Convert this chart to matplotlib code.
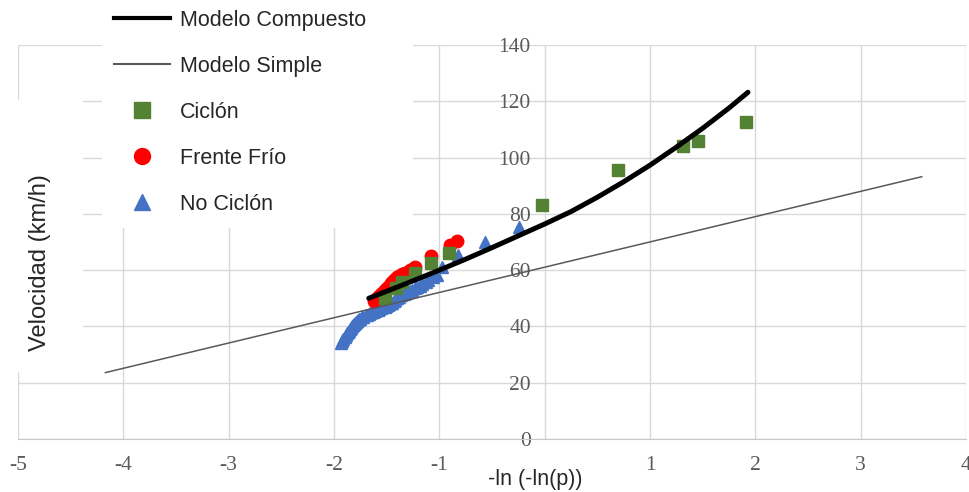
import matplotlib
matplotlib.use("Agg")
import matplotlib.pyplot as plt
from matplotlib.patches import Rectangle
from matplotlib.lines import Line2D

# ---------------- data ----------------
x_ticks = [-5, -4, -3, -2, -1, 0, 1, 2, 3, 4]
x_tick_labels = ["-5", "-4", "-3", "-2", "-1", "", "1", "2", "3", "4"]
y_ticks = [0, 20, 40, 60, 80, 100, 120, 140]

compuesto_x = [-1.67, -1.5, -1.25, -1.0, -0.75, -0.5, -0.25, 0.0, 0.25, 0.5,
               0.75, 1.0, 1.25, 1.5, 1.75, 1.93]
compuesto_y = [50.0, 52.5, 56.2, 60.0, 63.9, 68.0, 72.2, 76.4, 80.8, 85.9,
               91.4, 97.3, 103.7, 110.4, 117.6, 123.2]

simple_x = [-4.17, 3.58]
simple_y = [23.6, 93.2]

ciclon_x = [-1.52, -1.41, -1.35, -1.23, -1.08, -0.91, -0.03, 0.70, 1.31, 1.46, 1.91]
ciclon_y = [50.0, 53.6, 55.8, 59.0, 62.5, 66.0, 83.0, 95.5, 104.0, 106.0, 112.5]

frio_x = [-1.62, -1.60, -1.58, -1.56, -1.54, -1.52, -1.50, -1.48, -1.46, -1.44,
          -1.42, -1.40, -1.38, -1.35, -1.33, -1.30, -1.28, -1.25, -1.23,
          -1.08, -0.90, -0.83]
frio_y = [49.0, 49.8, 50.5, 51.2, 52.0, 52.8, 53.5, 54.5, 55.5, 56.2,
          57.0, 57.5, 58.0, 58.5, 59.0, 59.5, 60.0, 60.5, 61.0,
          65.0, 69.0, 70.4]

nociclon_x = [-1.93, -1.92, -1.91, -1.90, -1.89, -1.88, -1.87, -1.86, -1.85, -1.84,
              -1.83, -1.82, -1.81, -1.80, -1.79, -1.78, -1.77, -1.76, -1.75, -1.73,
              -1.72, -1.70, -1.69, -1.67, -1.66, -1.64, -1.63, -1.61, -1.60, -1.58,
              -1.57, -1.55, -1.54, -1.52, -1.51, -1.49, -1.48, -1.46, -1.45, -1.43,
              -1.42, -1.40, -1.38, -1.36, -1.34, -1.32, -1.30, -1.28, -1.26, -1.23,
              -1.21, -1.18, -1.16, -1.13, -1.11, -1.06, -1.02,
              -0.97, -0.82, -0.57, -0.24]
nociclon_y = [34.0, 34.8, 35.5, 36.3, 37.0, 37.5, 38.0, 38.5, 39.0, 39.5,
              40.0, 40.4, 40.8, 41.2, 41.5, 41.9, 42.2, 42.5, 42.8, 43.2,
              43.5, 43.9, 44.2, 44.5, 44.8, 45.0, 45.3, 45.6, 45.8, 46.0,
              46.3, 46.5, 46.8, 47.0, 47.3, 47.6, 48.0, 48.2, 48.5, 49.0,
              49.5, 50.0, 50.5, 51.0, 51.5, 51.9, 52.3, 52.6, 53.0, 53.5,
              54.0, 54.5, 55.0, 55.8, 56.5, 57.5, 58.3,
              61.0, 65.4, 70.0, 75.3]

# ---------------- figure ----------------
W, H = 969, 492
fig = plt.figure(figsize=(W / 100, H / 100), dpi=100)
ax = fig.add_axes([18 / W, (H - 439) / H, 948 / W, 394 / H])

grid_c = "#d9d9d9"
ax.set_xlim(-5, 4)
ax.set_ylim(0, 140)
ax.set_axisbelow(True)
ax.grid(True, color=grid_c, linewidth=1.0)

for s in ["top", "right", "left"]:
    ax.spines[s].set_visible(False)
ax.spines["bottom"].set_color("#c8c8c8")
ax.spines["left"].set_position(("data", 0))

ax.set_xticks(x_ticks)
ax.set_xticklabels(x_tick_labels)
ax.set_yticks(y_ticks)
ax.tick_params(axis="both", length=0, colors="#595959", labelsize=15.5)
ax.tick_params(axis="x", pad=12)
ax.tick_params(axis="y", pad=10)
for lab in ax.get_xticklabels() + ax.get_yticklabels():
    lab.set_fontfamily("Liberation Serif")

# white areas (legend and y-title boxes) covering gridlines
ax.add_patch(Rectangle((102 / W, (H - 228) / H), 311 / W, 228 / H,
                       transform=fig.transFigure, facecolor="white",
                       edgecolor="none", zorder=0.8, clip_on=False))
ax.add_patch(Rectangle((17 / W, (H - 372) / H), 66 / W, 272 / H,
                       transform=fig.transFigure, facecolor="white",
                       edgecolor="none", zorder=0.8, clip_on=False))

# series
ms = 9
ax.plot(nociclon_x, nociclon_y, linestyle="none", marker="^", ms=ms,
        color="#4472C4", mec="#4472C4", zorder=2, label="No Ciclón")
ax.plot(frio_x, frio_y, linestyle="none", marker="o", ms=ms,
        color="#FF0000", mec="#FF0000", zorder=2.1, label="Frente Frío")
ax.plot(ciclon_x, ciclon_y, linestyle="none", marker="s", ms=ms,
        color="#548235", mec="#548235", zorder=2.2, label="Ciclón")
ax.plot(simple_x, simple_y, color="#595959", linewidth=1.1, zorder=2.3,
        label="Modelo Simple")
ax.plot(compuesto_x, compuesto_y, color="black", linewidth=3.6, zorder=2.5,
        solid_capstyle="round", solid_joinstyle="round", label="Modelo Compuesto")

# axis titles
fig.text(535 / W, 1 - 479 / H, "-ln (-ln(p))", ha="center", va="center",
         fontsize=15.5, family="Liberation Sans", color="#262626")
fig.text(40 / W, 1 - 263 / H, "Velocidad (km/h)", ha="center", va="center",
         rotation=90, fontsize=17, family="Liberation Sans", color="#262626")

# legend
lms = 11.5
handles = [
    Line2D([], [], color="black", linewidth=3.0),
    Line2D([], [], color="#595959", linewidth=1.5),
    Line2D([], [], linestyle="none", marker="s", ms=lms, color="#548235"),
    Line2D([], [], linestyle="none", marker="o", ms=lms, color="#FF0000"),
    Line2D([], [], linestyle="none", marker="^", ms=lms, color="#4472C4"),
]
labels = ["Modelo Compuesto", "Modelo Simple", "Ciclón", "Frente Frío", "No Ciclón"]
leg = ax.legend(handles, labels, loc="upper left",
                bbox_to_anchor=(114 / W, 1 - 10 / H),
                bbox_transform=fig.transFigure, frameon=False,
                prop={"family": "Liberation Sans", "size": 15.5},
                handlelength=2.6, handletextpad=0.45, labelspacing=1.16,
                borderpad=0, borderaxespad=0)
for t in leg.get_texts():
    t.set_color("#262626")

fig.savefig("out.png", dpi=100)
